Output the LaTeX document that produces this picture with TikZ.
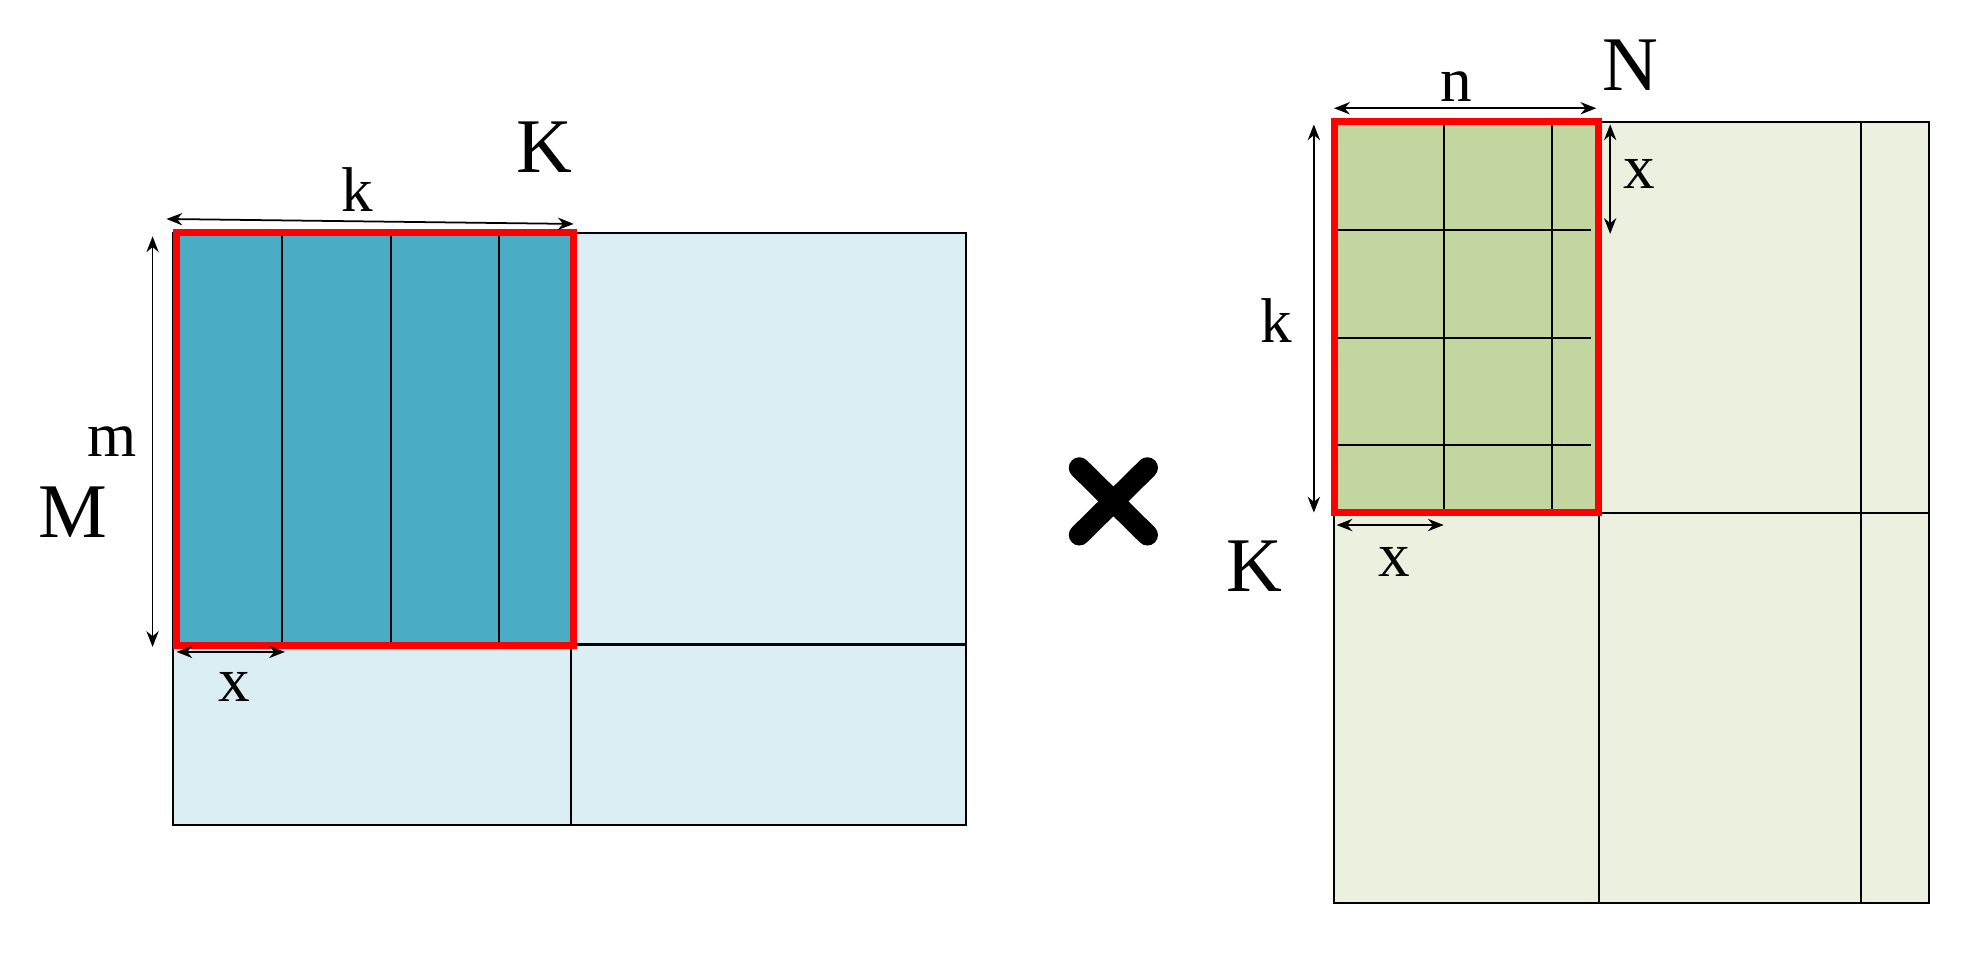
\documentclass[tikz,border=0pt]{standalone}
\usepackage{fontspec}
\setmainfont{Liberation Serif}
\usetikzlibrary{arrows.meta}
\definecolor{lblue}{RGB}{219,238,243}
\definecolor{dblue}{RGB}{75,172,198}
\definecolor{lgreen}{RGB}{235,241,222}
\definecolor{dgreen}{RGB}{196,214,160}
\begin{document}
\begin{tikzpicture}[x=0.02522cm,y=-0.02488cm,
  ln/.style={draw=black,line width=1.2pt},
  redbox/.style={draw=red,line width=4pt},
  dim/.style={draw=black,line width=1pt,{Stealth[length=9pt,width=7pt]}-{Stealth[length=9pt,width=7pt]}},
  big/.style={font=\fontsize{44}{44}\selectfont,inner sep=0pt},
  lab/.style={font=\fontsize{36}{36}\selectfont,inner sep=0pt}]
\useasboundingbox (0,0) rectangle (1560,770);
% left matrix
\fill[lblue] (137,187) rectangle (766,663);
\fill[dblue] (140,187) rectangle (455,519);
\draw[ln] (137,187) rectangle (766,663);
\draw[ln] (453,187) -- (453,663) (137,518) -- (766,518);
\foreach \c in {224,310,396} \draw[ln] (\c,187) -- (\c,519);
\draw[redbox] (140,187) rectangle (455,519);
% right matrix
\fill[lgreen] (1058,98) rectangle (1530,726);
\fill[dgreen] (1058,98) rectangle (1268,412);
\draw[ln] (1058,98) rectangle (1530,726);
\draw[ln] (1268,98) -- (1268,726) (1476,98) -- (1476,726) (1058,412) -- (1530,412);
\foreach \r in {185,272,358} \draw[ln] (1058,\r) -- (1262,\r);
\foreach \c in {1145,1231} \draw[ln] (\c,98) -- (\c,412);
\draw[redbox] (1058,98) rectangle (1268,412);
% times
\coordinate (tc) at (883,403);
\draw[line width=12pt,line cap=round] ([shift={(-27,-27)}]tc) -- ([shift={(27,27)}]tc) ([shift={(-27,27)}]tc) -- ([shift={(27,-27)}]tc);
% left labels
\coordinate (ka) at (132,176); \coordinate (kb) at (455,180);
\draw[dim] (ka) -- (kb);
\node[big] (K1) at (432,118) {K};
\node[lab] (k1) at (283,152) {k};
\coordinate (ma) at (121,190); \coordinate (mb) at (121,520);
\draw[dim] (ma) -- (mb);
\node[lab] (m1) at (89,355) {m};
\node[big] (M1) at (58,412) {M};
\coordinate (xa) at (140,524); \coordinate (xb) at (226,524);
\draw[dim] (xa) -- (xb);
\node[lab] (x1) at (186,552) {x};
% right labels
\coordinate (na) at (1058,87); \coordinate (nb) at (1266,87);
\draw[dim] (na) -- (nb);
\node[big] (N2) at (1293,52) {N};
\node[lab] (n2) at (1155,70) {n};
\coordinate (va) at (1277,100); \coordinate (vb) at (1277,188);
\draw[dim] (va) -- (vb);
\node[lab] (x2) at (1300,140) {x};
\coordinate (kka) at (1042,100); \coordinate (kkb) at (1042,412);
\draw[dim] (kka) -- (kkb);
\node[lab] (k2) at (1012,258) {k};
\node[big] (K2) at (995,455) {K};
\coordinate (ha) at (1060,422); \coordinate (hb) at (1145,422);
\draw[dim] (ha) -- (hb);
\node[lab] (x3) at (1106,452) {x};
\end{tikzpicture}
\end{document}
